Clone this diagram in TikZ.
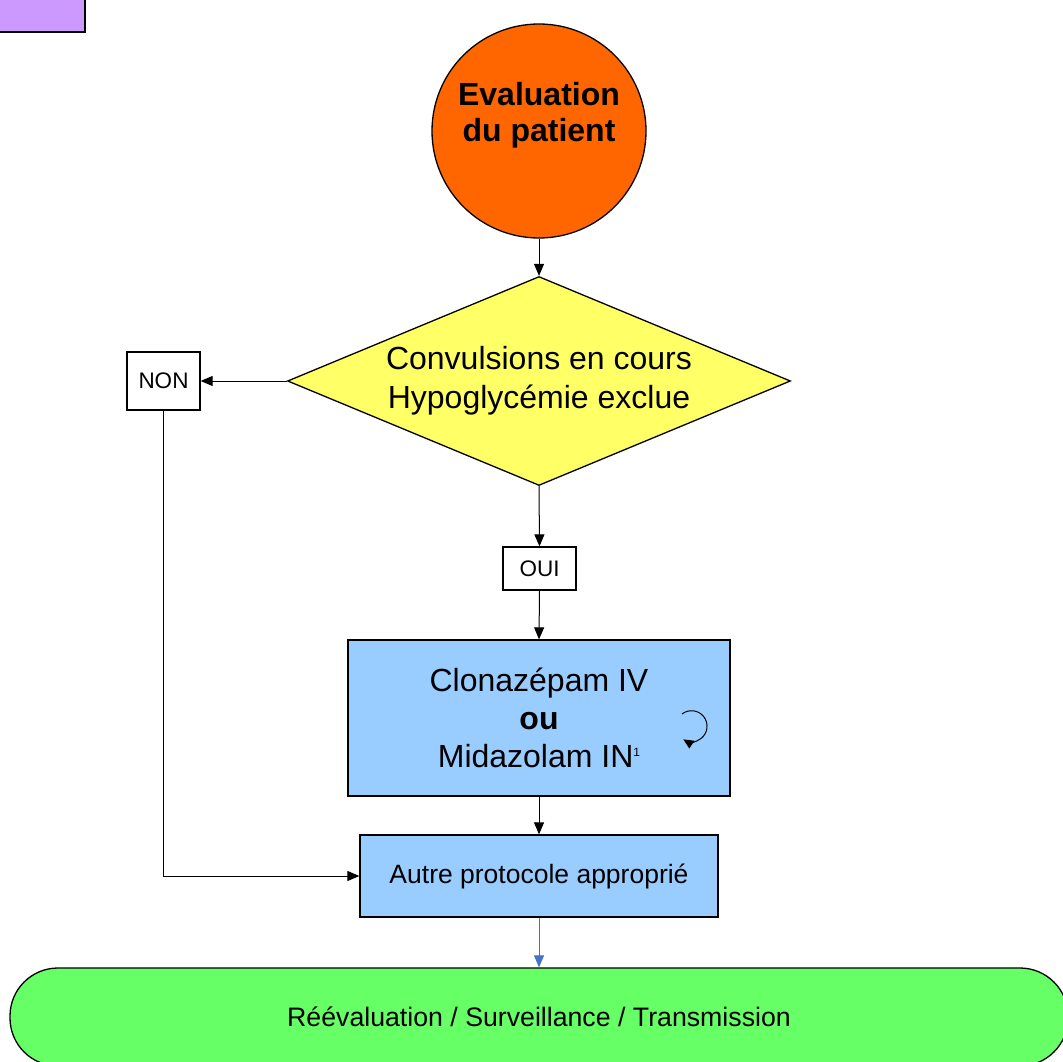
\documentclass[tikz,border=0pt]{standalone}
\usepackage{fontspec}
\setmainfont{Liberation Sans}
\usetikzlibrary{shapes.geometric,arrows.meta}
\definecolor{tagviolet}{HTML}{CC99FF}
\definecolor{startorange}{HTML}{FF6600}
\definecolor{testyellow}{HTML}{FFFF66}
\definecolor{actblue}{HTML}{99CCFF}
\definecolor{endgreen}{HTML}{66FF66}
\definecolor{linkblue}{HTML}{4472C4}
\begin{document}
\begin{tikzpicture}[x=1pt,y=-1pt,
  shape border/.style={draw=black, line width=1.3pt},
  labelbox/.style={shape border, fill=white, inner sep=0pt, font=\fontsize{22.5}{26}\selectfont},
  stepbox/.style={shape border, fill=actblue, inner sep=0pt, align=center},
  link/.style={draw=black, line width=1pt, -{Triangle[length=12pt,width=10pt]}},
]
\useasboundingbox (0,0) rectangle (1063,1062);
\clip (0,0) rectangle (1063,1062);
\fill[white] (0,0) rectangle (1063,1062);

% corner tag
\node[shape border, line width=1.8pt, fill=tagviolet, inner sep=0pt, minimum width=120pt, minimum height=60pt, anchor=south east] (tag) at (86,33) {};

% start
\node[circle, shape border, fill=startorange, minimum size=214pt, inner sep=0pt] (eval) at (539,131) {};
\node[align=center, inner sep=0pt, font=\fontsize{32}{36}\selectfont\bfseries] (evaltext) at (539,115) {Evaluation\\du patient};

% decision
\node[diamond, shape border, fill=testyellow, shape aspect=2.4, minimum width=503pt, minimum height=209pt,
      inner sep=0pt, align=center, font=\fontsize{32}{39}\selectfont] (test) at (539,381)
      {\rule{0pt}{6pt}Convulsions en cours\\Hypoglycémie exclue};

% answers
\node[labelbox, minimum width=73pt, minimum height=58pt] (non) at (163.5,381) {NON};
\node[labelbox, minimum width=73pt, minimum height=43pt] (oui) at (539.5,568.5) {OUI};

% treatment
\node[stepbox, minimum width=382pt, minimum height=156pt, font=\fontsize{32}{38}\selectfont] (drug) at (539,718)
      {Clonazépam IV\\\textbf{ou}\\Midazolam IN\raisebox{11pt}{\fontsize{12}{12}\selectfont 1}};
\node[stepbox, minimum width=358pt, minimum height=82pt, font=\fontsize{26.5}{30}\selectfont] (other) at (539,876)
      {Autre protocole approprié};

% repeat mark
\draw[line width=1pt, -{Triangle[length=10pt,width=9pt]}] (682,714) arc[start angle=128, end angle=-122, radius=15.5pt];

% end
\node[shape border, fill=endgreen, rounded corners=48pt, minimum width=1058pt, minimum height=98pt,
      inner sep=0pt, font=\fontsize{26.7}{30}\selectfont] (follow) at (539,1017)
      {Réévaluation / Surveillance / Transmission};

% connectors
\draw[link] (eval.south) -- (test.north);
\draw[link] (test.west) -- (non.east);
\draw[link] (test.south) -- (oui.north);
\draw[link] (oui.south) -- (drug.north);
\draw[link] (drug.south) -- (other.north);
\draw[link] (non.south) |- (other.west);
\draw[line width=1pt, draw=linkblue, -{Triangle[length=12pt,width=10pt]}, linkblue] (other.south) -- (follow.north);
\end{tikzpicture}
\end{document}
